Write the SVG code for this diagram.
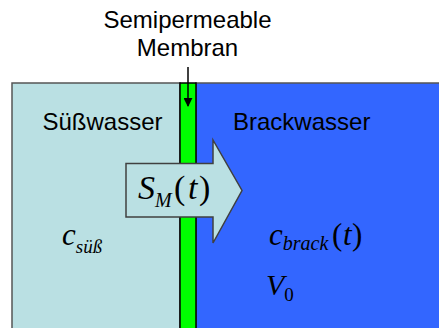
<svg xmlns="http://www.w3.org/2000/svg" width="439" height="328" viewBox="0 0 439 328">
<defs>
<style>
.lbl{font-family:"Liberation Sans",Arial,sans-serif;font-size:24px;fill:#000}
.m{font-family:"Liberation Serif","Times New Roman",serif;font-style:italic;fill:#000}
.up{font-style:normal}
</style>
<marker id="ah" viewBox="0 0 10 10" refX="9" refY="5" markerWidth="9" markerHeight="9" markerUnits="userSpaceOnUse" orient="auto">
<path d="M0,0 L10,5 L0,10 z" fill="#000"/>
</marker>
</defs>
<g id="suesswasser">
<rect x="12" y="83" width="168" height="260" fill="#BAE0E3" stroke="#555" stroke-width="1.5"/>
<text class="lbl" x="42.5" y="130">Süßwasser</text>
<text class="m" x="62" y="245" font-size="31">c<tspan font-size="19" dy="8">süß</tspan></text>
</g>
<g id="brackwasser">
<rect x="196" y="83" width="250" height="260" fill="#3366FF" stroke="#555" stroke-width="1.5"/>
<text class="lbl" x="233" y="130">Brackwasser</text>
<text class="m" x="269" y="245" font-size="31">c<tspan font-size="20" dy="5">brack</tspan><tspan class="up" dy="-5" x="332">(</tspan><tspan x="343">t</tspan><tspan class="up" x="352">)</tspan></text>
<text class="m" x="266" y="295" font-size="30">V<tspan class="up" font-size="19" dy="6">0</tspan></text>
</g>
<g id="membran">
<rect x="180" y="83" width="16" height="260" fill="#00FF00" stroke="#000" stroke-width="1.5"/>
<text class="lbl" x="187.5" y="27.5" text-anchor="middle">Semipermeable</text>
<text class="lbl" x="187.5" y="56" text-anchor="middle">Membran</text>
</g>
<g id="fluss">
<path d="M126,163.5 H213 V140 L242,190.5 L213,243 V217 H126 Z" fill="#BAE0E3" stroke="#404040" stroke-width="1.5"/>
<text class="m" x="138" y="199" font-size="34">S<tspan font-size="20" dy="8">M</tspan><tspan class="up" dy="-8" x="174">(</tspan><tspan x="188">t</tspan><tspan class="up" x="199">)</tspan></text>
</g>
<g id="connectors">
<line x1="188" y1="67" x2="188" y2="106" stroke="#000" stroke-width="1.5" marker-end="url(#ah)"/>
</g>
</svg>
